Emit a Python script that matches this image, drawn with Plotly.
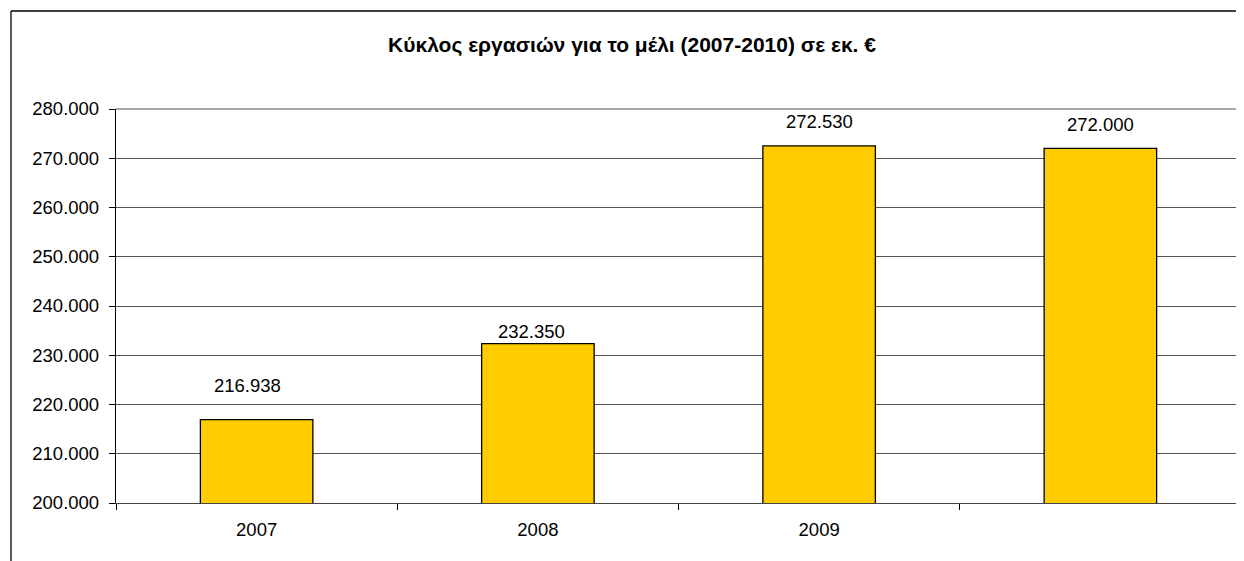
import plotly.graph_objects as go

years = ["2007", "2008", "2009", "2010"]
tick_labels = ["2007", "2008", "2009", ""]
turnover = [216938, 232350, 272530, 272000]
label_texts = ["216.938", "232.350", "272.530", "272.000"]
y_tick_vals = [200000, 210000, 220000, 230000, 240000, 250000, 260000, 270000, 280000]
y_tick_text = ["200.000", "210.000", "220.000", "230.000", "240.000", "250.000", "260.000", "270.000", "280.000"]
title_text = "Κύκλος εργασιών για το μέλι (2007-2010) σε εκ. €"

# page body has an 8px margin; figure sized to fit the window
OFF = 8
W, H = 1244 - OFF, 561 - OFF
ML, MR, MT, MB = 116 - OFF, 3, 109 - OFF, 58
PW = W - ML - MR
PH = H - MT - MB

FONT = "Liberation Sans, Arial, sans-serif"
FS = 18.5

# label offsets (pixels) as in the reference
lab_dx = [-9, -6, 0, 0]
lab_dy = [34, 12, 24, 24]

fig = go.Figure()
fig.add_trace(go.Bar(
    x=years, y=turnover, width=0.4,
    marker=dict(color="#FFCC00", line=dict(color="#000000", width=1.3)),
    hoverinfo="skip",
))

for i, (v, t, dx, dy) in enumerate(zip(turnover, label_texts, lab_dx, lab_dy)):
    fig.add_annotation(x=i, y=v, text=t, showarrow=False, xshift=dx, yshift=dy,
                       yanchor="middle", font=dict(family=FONT, size=FS, color="#000"))

def px_x(p):
    return (p - OFF - ML) / PW

def px_y(p):
    return (H - MB - (p - OFF)) / PH

# outer chart border (left and top)
fig.add_shape(type="line", xref="paper", yref="paper",
              x0=px_x(11), x1=px_x(11), y0=px_y(11), y1=px_y(561 + 5),
              line=dict(color="#000", width=1.3))
fig.add_shape(type="line", xref="paper", yref="paper",
              x0=px_x(11), x1=px_x(1244 + 5), y0=px_y(11), y1=px_y(11),
              line=dict(color="#000", width=1.3))
# plot area border top/right (gray)
fig.add_shape(type="line", xref="paper", yref="paper",
              x0=0, x1=1, y0=1, y1=1, line=dict(color="#888", width=1.5))
fig.add_shape(type="line", xref="paper", yref="paper",
              x0=1, x1=1, y0=0, y1=1, line=dict(color="#888", width=1.5))

fig.update_layout(
    width=W, height=H,
    margin=dict(l=ML, r=MR, t=MT, b=MB),
    paper_bgcolor="white", plot_bgcolor="white",
    showlegend=False,
    title=dict(text="<b>" + title_text + "</b>", x=(632 - OFF) / W, xref="container", xanchor="center",
               y=1 - (45 - OFF) / H, yref="container", yanchor="middle",
               font=dict(family=FONT, size=21, color="#000")),
    xaxis=dict(type="category", tickmode="array", tickvals=years, ticktext=tick_labels,
               tickson="boundaries", ticks="outside", ticklen=6, tickcolor="#000",
               ticklabelstandoff=10,
               showline=True, linecolor="#444", linewidth=1.3,
               showgrid=False, tickfont=dict(family=FONT, size=FS, color="#000"),
               range=[-0.5, 3.5]),
    yaxis=dict(range=[200000, 280000], tickmode="array", tickvals=y_tick_vals, ticktext=y_tick_text,
               ticks="outside", ticklen=6, tickcolor="#000",
               ticklabelstandoff=6,
               showline=True, linecolor="#000", linewidth=1.3,
               showgrid=True, gridcolor="#555", gridwidth=1, zeroline=False,
               tickfont=dict(family=FONT, size=FS, color="#000")),
)

fig.write_html("out.html")
